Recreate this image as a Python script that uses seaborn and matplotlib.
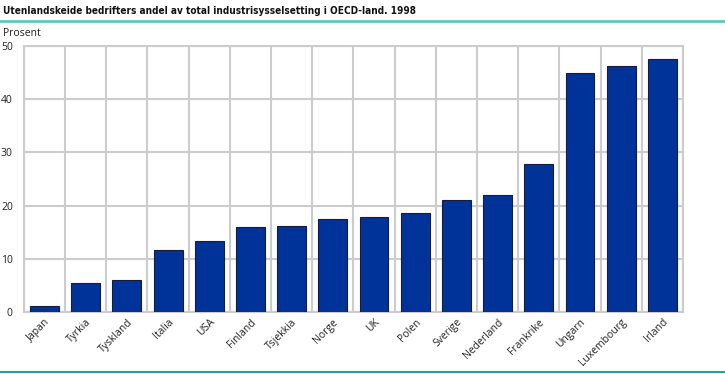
import numpy as np
import pandas as pd
import seaborn as sns
import matplotlib.pyplot as plt
from matplotlib.lines import Line2D
from matplotlib.ticker import FixedLocator
from matplotlib import font_manager

#%% data
countries = ['Japan', 'Tyrkia', 'Tyskland', 'Italia', 'USA', 'Finland', 'Tsjekkia',
             'Norge', 'UK', 'Polen', 'Sverige', 'Nederland', 'Frankrike', 'Ungarn',
             'Luxembourg', 'Irland']
andel = [1.1, 5.4, 6.0, 11.6, 13.4, 16.0, 16.1, 17.5, 17.8, 18.6, 21.0, 22.0, 27.8,
         44.9, 46.2, 47.5]
y_ticks = [0, 10, 20, 30, 40, 50]

df = pd.DataFrame({'land': countries, 'prosent': andel})

#%% plot
sns.set_style('white')
plt.rcParams['font.family'] = ['Open Sans', 'DejaVu Sans']

# look for a condensed bold face for the title
cond = None
for f in font_manager.fontManager.ttflist:
    low = f.fname.lower()
    if ('condensed' in low or 'narrow' in low) and f.weight in (600, 700, 'bold') \
            and 'italic' not in low and 'oblique' not in low:
        cond = f.fname
        break
if cond is not None:
    title_prop = font_manager.FontProperties(fname=cond, size=7.2)
else:
    title_prop = font_manager.FontProperties(family='Open Sans', weight='bold', size=7.2)

fig = plt.figure(figsize=(7.25, 3.74), dpi=100)
ax = fig.add_axes([0.033, 0.166, 0.909, 0.711])

sns.barplot(data=df, x='land', y='prosent', color='#003399', saturation=1,
            width=0.7, edgecolor='#1a1a3a', linewidth=0.8, ax=ax, zorder=3)

ax.set_ylim(0, 50)
ax.set_xlim(-0.5, len(countries) - 0.5)
ax.set_yticks(y_ticks)
ax.xaxis.set_minor_locator(FixedLocator(np.arange(-0.5, len(countries), 1)))
ax.grid(axis='y', which='major', color='#cccccc', linewidth=1.5, zorder=0)
ax.grid(axis='x', which='minor', color='#cccccc', linewidth=1.5, zorder=0)
ax.grid(axis='x', which='major', visible=False)
for s in ax.spines.values():
    s.set_color('#cccccc')
    s.set_linewidth(1.5)
ax.tick_params(axis='both', which='both', length=0, labelsize=7.5, colors='#222222')
ax.tick_params(axis='y', pad=8)
plt.setp(ax.get_xticklabels(), rotation=45, ha='right', rotation_mode='anchor')
ax.set_xlabel('')
ax.set_ylabel('')

fig.text(0.004, 1 - 14 / 374, 'Utenlandskeide bedrifters andel av total industrisysselsetting i OECD-land. 1998',
         fontproperties=title_prop, va='baseline', ha='left', color='#111111')
fig.add_artist(Line2D([0, 1], [1 - 21 / 374, 1 - 21 / 374], color='#5ec8c2', linewidth=2))
fig.add_artist(Line2D([0, 1], [1 - 372 / 374, 1 - 372 / 374], color='#2a9e9a', linewidth=1.5))
fig.text(0.004, 1 - 33 / 374, 'Prosent', fontsize=7.5, va='center', ha='left', color='#222222')

fig.savefig('out.png', dpi=100)
